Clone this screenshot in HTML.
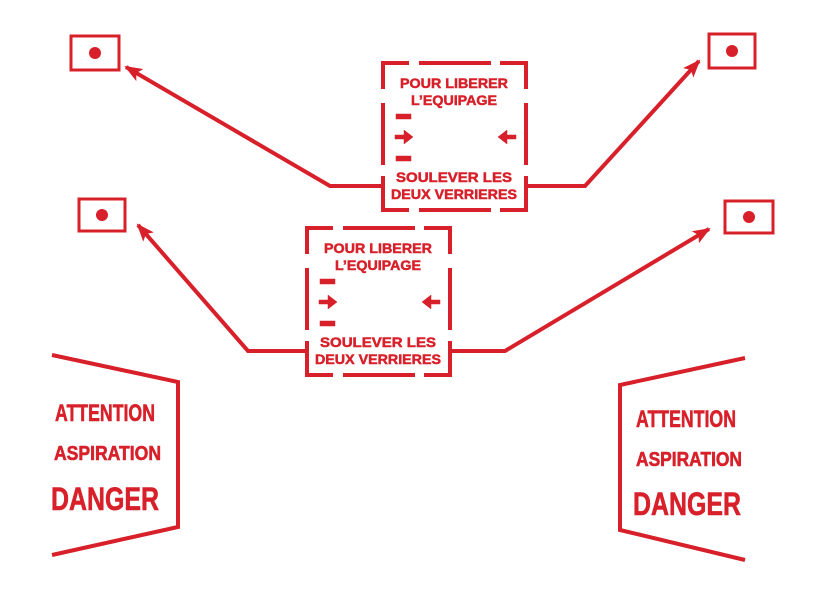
<!DOCTYPE html>
<html><head><style>body{margin:0;background:#fff}svg{display:block}</style></head><body>
<svg width="822" height="595" viewBox="0 0 822 595" xmlns="http://www.w3.org/2000/svg">
<defs>
<g id="box">
  <g stroke="#d8202a" stroke-width="4" fill="none">
    <path d="M0,26 V0 H26 M36,0 H108 M117,0 H143 V26"/>
    <path d="M0,40 V102 M143,40 V102"/>
    <path d="M0,113 V147 H26 M36,147 H108 M117,147 H143 V113"/>
  </g>
  <g fill="#d8202a" font-family="Liberation Sans, sans-serif" font-weight="bold" text-anchor="middle" stroke="#d8202a" stroke-width="0.5">
    <text x="71" y="25" font-size="14" textLength="108" lengthAdjust="spacingAndGlyphs">POUR LIBERER</text>
    <text x="71" y="42" font-size="14" textLength="86" lengthAdjust="spacingAndGlyphs">L’EQUIPAGE</text>
    <text x="71" y="119" font-size="14" textLength="116" lengthAdjust="spacingAndGlyphs">SOULEVER LES</text>
    <text x="71" y="136" font-size="14" textLength="126" lengthAdjust="spacingAndGlyphs">DEUX VERRIERES</text>
    <rect x="13" y="51" width="15" height="5"/>
    <rect x="13" y="93" width="15" height="5"/>
    <path d="M12,72 h9 v-5 l9,7 l-9,7 v-5 h-9z"/>
    <path d="M133,72 h-9 v-5 l-9,7 l9,7 v-5 h9z"/>
  </g>
</g>
<marker id="ar" markerWidth="18" markerHeight="14" refX="16" refY="7" orient="auto" markerUnits="userSpaceOnUse"><path d="M0,0 L18,7 L0,14 L4,7z" fill="#d8202a"/></marker>
</defs>
<use href="#box" x="383" y="63"/>
<use href="#box" x="307" y="228"/>
<g stroke="#d8202a" stroke-width="4" fill="none">
  <path d="M383,186 H330 L126,67" marker-end="url(#ar)"/>
  <path d="M526,186 H585 L699,61" marker-end="url(#ar)"/>
  <path d="M307,351 H248 L138,225" marker-end="url(#ar)"/>
  <path d="M450,351 H505 L709,229" marker-end="url(#ar)"/>
  <rect x="71" y="36" width="48" height="34" stroke-width="3"/>
  <rect x="709" y="34" width="46" height="34" stroke-width="3"/>
  <rect x="79" y="199" width="46" height="32" stroke-width="3"/>
  <rect x="725" y="201" width="48" height="32" stroke-width="3"/>
  <path d="M52,355 L178,382 V527 L52,555"/>
  <path d="M745,358 L620,385 V530 L745,560"/>
</g>
<g fill="#d8202a">
  <circle cx="95" cy="53" r="6"/>
  <circle cx="732" cy="51" r="6"/>
  <circle cx="102" cy="215" r="6"/>
  <circle cx="749" cy="217" r="6"/>
</g>
<g fill="#d8202a" font-family="Liberation Sans, sans-serif" font-weight="bold" stroke="#d8202a" stroke-width="0.6">
  <text x="55" y="421" font-size="24" textLength="100" lengthAdjust="spacingAndGlyphs">ATTENTION</text>
  <text x="54" y="460" font-size="20" textLength="107" lengthAdjust="spacingAndGlyphs">ASPIRATION</text>
  <text x="51" y="510" font-size="32" textLength="108" lengthAdjust="spacingAndGlyphs">DANGER</text>
  <text x="636" y="427" font-size="24" textLength="100" lengthAdjust="spacingAndGlyphs">ATTENTION</text>
  <text x="636" y="466" font-size="20" textLength="106" lengthAdjust="spacingAndGlyphs">ASPIRATION</text>
  <text x="633" y="515" font-size="32" textLength="108" lengthAdjust="spacingAndGlyphs">DANGER</text>
</g>
</svg>
</body></html>
